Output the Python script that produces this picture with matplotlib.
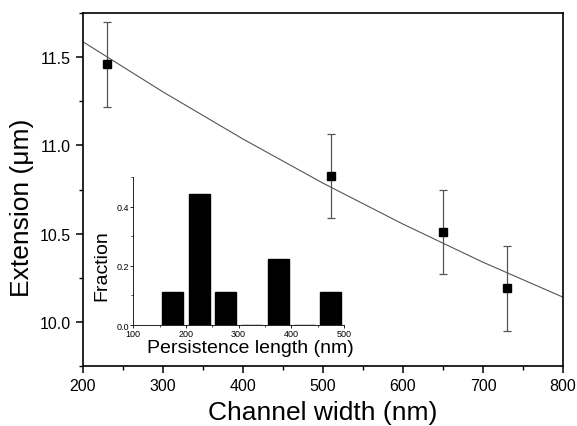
import numpy as np
import matplotlib
matplotlib.use("Agg")
import matplotlib.pyplot as plt
from matplotlib.ticker import MultipleLocator, FormatStrFormatter

plt.rcParams['font.family'] = ['Liberation Sans', 'DejaVu Sans']

# measured extension vs channel width
width_nm = [230, 510, 650, 730]
extension_um = [11.46, 10.826, 10.51, 10.19]
ext_err = [0.24, 0.24, 0.24, 0.24]

# fitted curve
fit_x = [200, 300, 400, 500, 600, 700, 800]
fit_y = [11.587, 11.303, 11.036, 10.786, 10.554, 10.338, 10.14]

# inset histogram of persistence length
pl_centers = [175, 225, 275, 325, 375, 425, 475]
pl_fraction = [0.111, 0.444, 0.111, 0.0, 0.222, 0.0, 0.111]

fig = plt.figure(figsize=(5.77, 4.27), dpi=100)
ax = fig.add_axes([0.1438, 0.1405, 0.8319, 0.8267])

ax.plot(fit_x, fit_y, color='#555555', lw=0.8)
ax.errorbar(width_nm, extension_um, yerr=ext_err, fmt='s', color='black',
            ms=5.8, ecolor='#555555', elinewidth=0.9, capsize=3, capthick=0.9)

ax.set_xlim(200, 800)
ax.set_ylim(9.75, 11.75)
ax.xaxis.set_major_locator(MultipleLocator(100))
ax.xaxis.set_minor_locator(MultipleLocator(50))
ax.yaxis.set_major_locator(MultipleLocator(0.5))
ax.yaxis.set_minor_locator(MultipleLocator(0.25))
ax.yaxis.set_major_formatter(FormatStrFormatter('%.1f'))
ax.tick_params(which='major', direction='out', length=5, width=1.1, labelsize=11.5)
ax.tick_params(which='minor', direction='out', length=3, width=1.0)
for s in ax.spines.values():
    s.set_linewidth(1.2)
ax.set_xlabel('Channel width (nm)', fontsize=19, labelpad=5)
ax.set_ylabel('Extension (\u03bcm)', fontsize=19)
ax.yaxis.set_label_coords(-0.103, 0.452)

ins = fig.add_axes([0.231, 0.2365, 0.3652, 0.3466])
ins.patch.set_alpha(0)
ins.bar(pl_centers, pl_fraction, width=40, color='black', edgecolor='black')
ins.set_xlim(100, 500)
ins.set_ylim(0, 0.5)
ins.spines['top'].set_visible(False)
ins.spines['right'].set_visible(False)
for s in ['left', 'bottom']:
    ins.spines[s].set_linewidth(0.6)
ins.xaxis.set_major_locator(MultipleLocator(100))
ins.xaxis.set_minor_locator(MultipleLocator(50))
ins.yaxis.set_major_locator(MultipleLocator(0.2))
ins.yaxis.set_minor_locator(MultipleLocator(0.1))
ins.yaxis.set_major_formatter(FormatStrFormatter('%.1f'))
ins.tick_params(which='major', direction='out', length=2, width=0.6, labelsize=6.5, pad=1)
ins.tick_params(which='minor', direction='out', length=1.2, width=0.5)
ins.set_xlabel('Persistence length (nm)', fontsize=14)
ins.set_ylabel('Fraction', fontsize=14)
ins.xaxis.set_label_coords(0.554, -0.095)
ins.yaxis.set_label_coords(-0.11, 0.405)

fig.savefig('out.png', dpi=100)
